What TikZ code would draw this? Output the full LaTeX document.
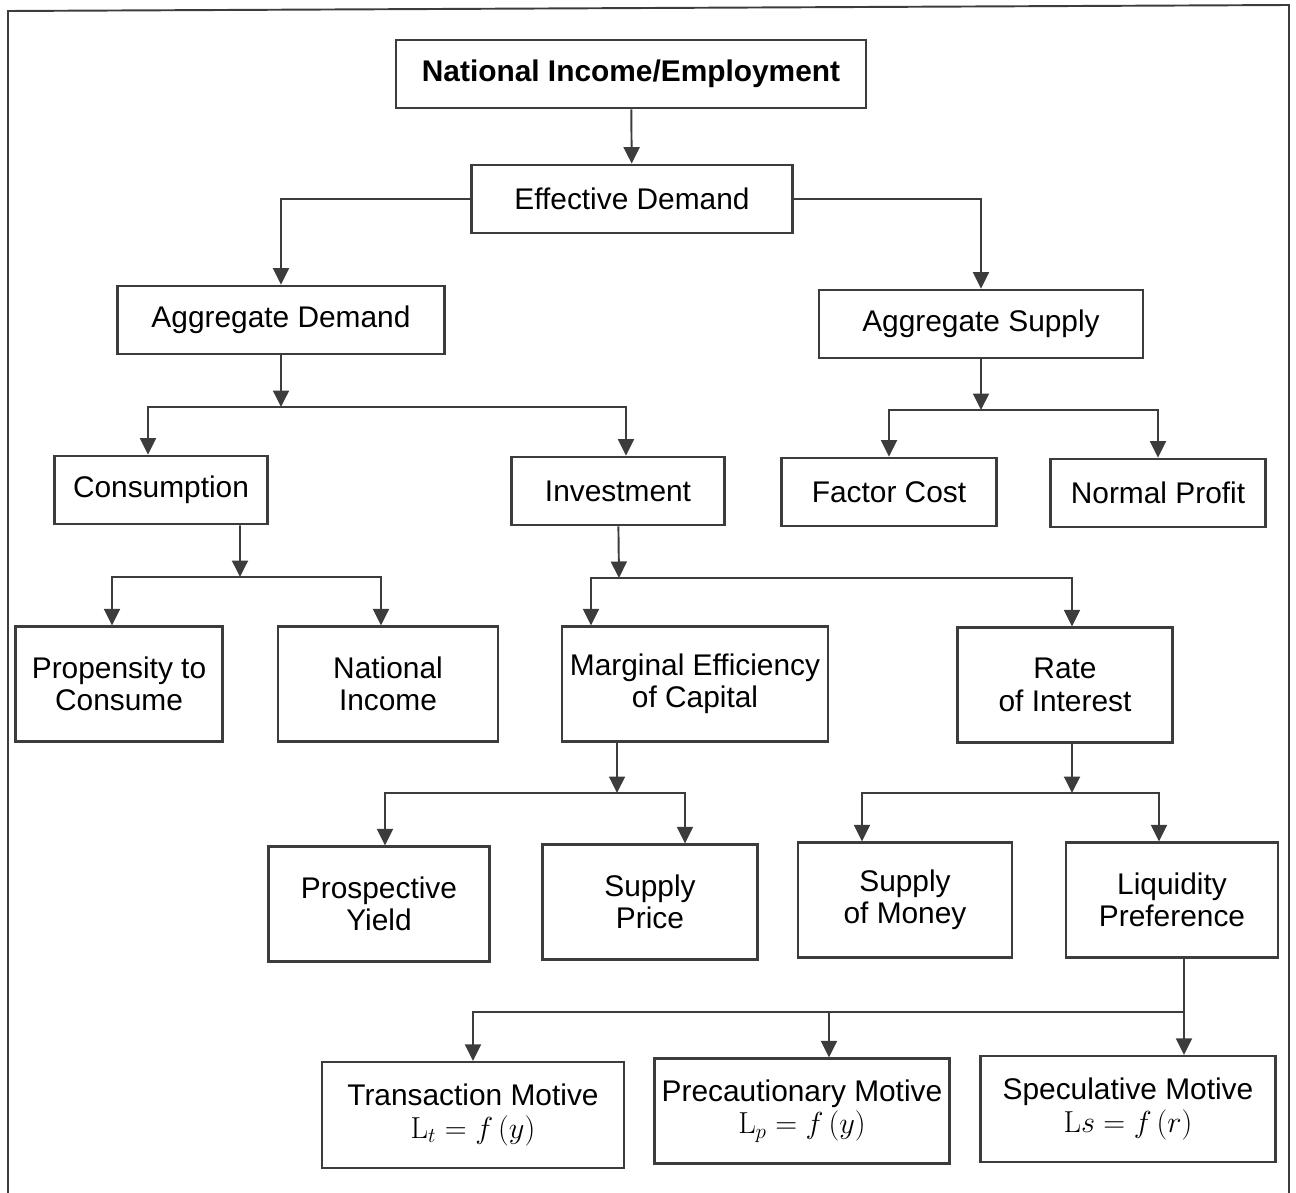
\documentclass[tikz,border=0pt]{standalone}
\usepackage[no-math]{fontspec}
\setmainfont{Liberation Sans}
\usetikzlibrary{arrows.meta}
\definecolor{boxcol}{HTML}{3C3C3C}

\begin{document}
\begin{tikzpicture}[x=0.02cm,y=-0.02cm,
    box/.style={draw=boxcol,line width=1.3pt,inner sep=0pt,align=center,
      minimum height=1.37cm,font=\fontsize{17}{18.5}\selectfont},
    tall/.style={box,minimum height=2.3cm},
    arr/.style={draw=boxcol,line width=1.1pt,-{Triangle[length=0.33cm,width=0.32cm]}}]
    \useasboundingbox (0,0) rectangle (1296,1193);
    \draw[boxcol,line width=1.1pt] (8,1193) -- (8,11) -- (1289,5) -- (1289,1193);

    \node[box,minimum width=9.4cm,font=\fontsize{17}{18.5}\selectfont\bfseries] (ni) at (631,74) {National Income/Employment};
    \node[box,minimum width=6.42cm] (ed) at (632,199) {Effective Demand};
    \node[box,minimum width=6.54cm] (ad) at (281,320) {Aggregate Demand};
    \node[box,minimum width=6.48cm] (as) at (981,324) {Aggregate Supply};
    \node[box,minimum width=4.26cm] (cons) at (161,490) {Consumption};
    \node[box,minimum width=4.26cm] (inv) at (618,491) {Investment};
    \node[box,minimum width=4.3cm] (fc) at (889,492) {Factor Cost};
    \node[box,minimum width=4.3cm] (np) at (1158,493) {Normal Profit};
    \node[tall,minimum width=4.14cm] (prop) at (119,684) {Propensity to\\Consume};
    \node[tall,minimum width=4.4cm] (natinc) at (388,684) {National\\Income};
    \node[tall,minimum width=5.32cm] (mec) at (695,684) {Marginal Efficiency\\of Capital};
    \node[tall,minimum width=4.3cm] (rate) at (1065,685) {Rate\\of Interest};
    \node[tall,minimum width=4.42cm] (yield) at (379,904) {Prospective\\Yield};
    \node[tall,minimum width=4.3cm] (price) at (650,902) {Supply\\Price};
    \node[tall,minimum width=4.28cm] (money) at (905,900) {Supply\\of Money};
    \node[tall,minimum width=4.24cm] (liq) at (1172,900) {Liquidity\\Preference};
    \node[box,minimum width=6.04cm,minimum height=2.12cm] (trans) at (473,1115) {Transaction Motive\\$\mathrm{L}_t = f\,(y)$};
    \node[box,minimum width=5.9cm,minimum height=2.1cm] (prec) at (802,1111) {Precautionary Motive\\$\mathrm{L}_p = f\,(y)$};
    \node[box,minimum width=5.9cm,minimum height=2.12cm] (spec) at (1128,1109) {Speculative Motive\\$\mathrm{L}s = f\,(r)$};

    \draw[arr] (ni) -- (ed);
    \draw[arr] (ed.west) -| (ad.north);
    \draw[arr] (ed.east) -| (as.north);

    % demand side
    \coordinate (adbus) at (281,407);
    \draw[arr] (ad) -- (adbus);
    \draw[arr] (adbus) -| ([xshift=-.26cm]cons.north);
    \draw[arr] (adbus) -| ([xshift=.16cm]inv.north);

    % supply side
    \coordinate (asbus) at (981,410);
    \draw[arr] (as) -- (asbus);
    \draw[arr] (asbus) -| (fc.north);
    \draw[arr] (asbus) -| (np.north);

    \coordinate (consbus) at (240,577);
    \draw[arr] ([xshift=1.58cm]cons.south) -- (consbus);
    \draw[arr] (consbus) -| ([xshift=-.14cm]prop.north);
    \draw[arr] (consbus) -| ([xshift=-.14cm]natinc.north);

    \coordinate (invbus) at (619,578);
    \draw[arr] (inv) -- (invbus);
    \draw[arr] (invbus) -| ([xshift=-2.08cm]mec.north);
    \draw[arr] (invbus) -| ([xshift=.14cm]rate.north);

    \coordinate (mecbus) at (617,793);
    \draw[arr] ([xshift=-1.56cm]mec.south) -- (mecbus);
    \draw[arr] (mecbus) -| ([xshift=.12cm]yield.north);
    \draw[arr] (mecbus) -| ([xshift=.7cm]price.north);

    \coordinate (ratebus) at (1072,793);
    \draw[arr] ([xshift=.14cm]rate.south) -- (ratebus);
    \draw[arr] (ratebus) -| ([xshift=-.86cm]money.north);
    \draw[arr] (ratebus) -| ([xshift=-.26cm]liq.north);

    % motives
    \coordinate (liqbus) at (1184,1012);
    \draw[arr] ([xshift=.24cm]liq.south) -- ([xshift=1.12cm]spec.north);
    \draw[arr] (liqbus) -| (trans.north);
    \draw[arr] ([xshift=.54cm]prec.north |- liqbus) -- ([xshift=.54cm]prec.north);
\end{tikzpicture}
\end{document}
